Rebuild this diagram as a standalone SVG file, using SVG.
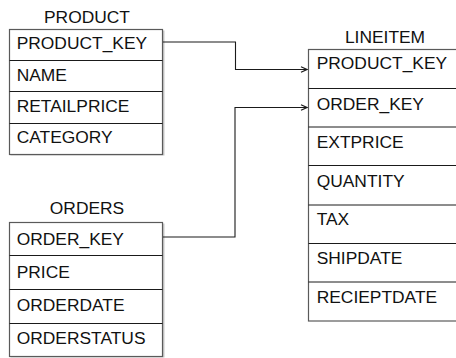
<svg xmlns="http://www.w3.org/2000/svg" width="456" height="358" viewBox="0 0 456 358">
  <style>
    .frame { fill: #ffffff; stroke: #5a5a5a; stroke-width: 1.2; }
    .shadow { fill: #c8c8c8; }
    .div { stroke: #1a1a1a; stroke-width: 1; }
    .title { font-family: "Liberation Sans", Arial, sans-serif; font-size: 17.4px; fill: #111111; text-anchor: middle; }
    .field { font-family: "Liberation Sans", Arial, sans-serif; font-size: 17.4px; fill: #111111; }
    .link { fill: none; stroke: #1a1a1a; stroke-width: 1.1; }
  </style>
  <defs>
    <marker id="arrow" viewBox="0 0 8 8" refX="7" refY="4" markerWidth="8" markerHeight="8" markerUnits="userSpaceOnUse" orient="auto">
      <path d="M1,1.2 L7,4 L1,6.8" fill="none" stroke="#1a1a1a" stroke-width="1.2"/>
    </marker>
  </defs>

  <rect width="456" height="358" fill="#ffffff"/>

  <!-- PRODUCT table -->
  <g id="product">
    <text class="title" x="87" y="22.7">PRODUCT</text>
    <rect class="shadow" x="10.5" y="30.5" width="154" height="125"/>
    <rect class="frame" x="9.5" y="29.5" width="153" height="125"/>
    <line class="div" x1="9.5" y1="60.5" x2="162.5" y2="60.5"/>
    <line class="div" x1="9.5" y1="91.5" x2="162.5" y2="91.5"/>
    <line class="div" x1="9.5" y1="123.5" x2="162.5" y2="123.5"/>
    <text class="field" x="16.7" y="49.3">PRODUCT_KEY</text>
    <text class="field" x="16.7" y="81">NAME</text>
    <text class="field" x="16.7" y="111.7">RETAILPRICE</text>
    <text class="field" x="16.7" y="143.3">CATEGORY</text>
  </g>

  <!-- ORDERS table -->
  <g id="orders">
    <text class="title" x="87" y="214">ORDERS</text>
    <rect class="shadow" x="10.5" y="223.5" width="154" height="134"/>
    <rect class="frame" x="9.5" y="222.5" width="153" height="134"/>
    <line class="div" x1="9.5" y1="255.5" x2="162.5" y2="255.5"/>
    <line class="div" x1="9.5" y1="289.5" x2="162.5" y2="289.5"/>
    <line class="div" x1="9.5" y1="323.5" x2="162.5" y2="323.5"/>
    <text class="field" x="16.7" y="245">ORDER_KEY</text>
    <text class="field" x="16.7" y="277.7">PRICE</text>
    <text class="field" x="16.7" y="310.7">ORDERDATE</text>
    <text class="field" x="16.7" y="344.3">ORDERSTATUS</text>
  </g>

  <!-- LINEITEM table -->
  <g id="lineitem">
    <text class="title" x="385" y="43">LINEITEM</text>
    <rect class="frame" x="308.5" y="49.5" width="170" height="271.5"/>
    <line class="div" x1="308.5" y1="88.5" x2="478" y2="88.5"/>
    <line class="div" x1="308.5" y1="127" x2="478" y2="127"/>
    <line class="div" x1="308.5" y1="165.5" x2="478" y2="165.5"/>
    <line class="div" x1="308.5" y1="205" x2="478" y2="205"/>
    <line class="div" x1="308.5" y1="243.5" x2="478" y2="243.5"/>
    <line class="div" x1="308.5" y1="282" x2="478" y2="282"/>
    <text class="field" x="316.7" y="69.3">PRODUCT_KEY</text>
    <text class="field" x="316.7" y="110">ORDER_KEY</text>
    <text class="field" x="316.7" y="147.7">EXTPRICE</text>
    <text class="field" x="316.7" y="186.5">QUANTITY</text>
    <text class="field" x="316.7" y="225">TAX</text>
    <text class="field" x="316.7" y="264">SHIPDATE</text>
    <text class="field" x="316.7" y="303.3">RECIEPTDATE</text>
  </g>

  <!-- foreign key links -->
  <g id="connectors">
    <path class="link" d="M163,42 H235.5 V69.5 H307" marker-end="url(#arrow)"/>
    <path class="link" d="M163,237 H235 V107.5 H307" marker-end="url(#arrow)"/>
  </g>
</svg>
